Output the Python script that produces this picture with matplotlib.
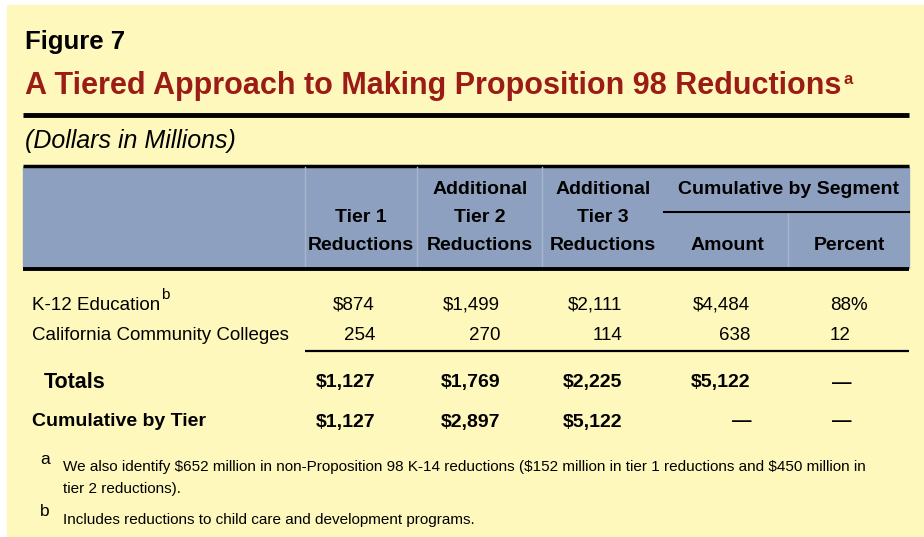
import matplotlib.pyplot as plt
from matplotlib.patches import Rectangle

# table data
segments = ["K-12 Education", "California Community Colleges"]
tier1 = [874, 254]
tier2 = [1499, 270]
tier3 = [2111, 114]
amount = [4484, 638]
percent = [88, 12]
totals = [1127, 1769, 2225, 5122]
cum_by_tier = [1127, 2897, 5122]

footnote_a = ("We also identify $652 million in non-Proposition 98 K-14 reductions ($152 million in tier 1 reductions and $450 million in\n"
              "tier 2 reductions).")
footnote_b = "Includes reductions to child care and development programs."

FONT = "Liberation Sans"
YELLOW = "#FFF8BD"
BLUE = "#8DA0BF"
RED = "#9B1C16"

fig = plt.figure(figsize=(9.24, 5.37), dpi=100)
ax = fig.add_axes([0, 0, 1, 1])
ax.set_xlim(0, 924)
ax.set_ylim(537, 0)
ax.axis("off")

ax.add_patch(Rectangle((7, 5), 917, 532, color=YELLOW, zorder=0))

ax.text(25, 42, "Figure 7", fontsize=18.5, fontweight="bold", family=FONT, va="center")
title = ax.text(25, 86, "A Tiered Approach to Making Proposition 98 Reductions", fontsize=22,
                fontweight="bold", color=RED, family=FONT, va="center")
fig.canvas.draw()
bb = title.get_window_extent().transformed(ax.transData.inverted())
ax.text(bb.x1 + 2, 80, "a", fontsize=12, fontweight="bold", color=RED, family=FONT, va="center")
ax.plot([23, 909], [115, 115], color="black", lw=3.5, solid_capstyle="butt")
ax.text(25, 141, "(Dollars in Millions)", fontsize=18, style="italic", family=FONT, va="center")
ax.plot([23, 909], [165.5, 165.5], color="black", lw=2.5, solid_capstyle="butt")

# header band
ax.add_patch(Rectangle((23, 167), 886, 101, color=BLUE, zorder=1))
ax.plot([23, 909], [269, 269], color="black", lw=2.8, solid_capstyle="butt", zorder=3)
sep = "#A8B6CC"
for x in [305, 417, 542]:
    ax.plot([x, x], [167, 268], color=sep, lw=1, zorder=2)
ax.plot([788, 788], [213, 268], color=sep, lw=1, zorder=2)
ax.plot([664, 909], [212, 212], color="black", lw=1.5, zorder=2)

hdr = dict(fontsize=14, fontweight="bold", family=FONT, ha="center", va="center", zorder=4)
header_cols = [(361, ["Tier 1", "Reductions"]),
               (480, ["Additional", "Tier 2", "Reductions"]),
               (603, ["Additional", "Tier 3", "Reductions"])]
for x, lines in header_cols:
    for k, line in enumerate(reversed(lines)):
        ax.text(x, 245 - 28 * k, line, **hdr)
ax.text(788, 189, "Cumulative by Segment", **hdr)
ax.text(727, 245, "Amount", **hdr)
ax.text(849, 245, "Percent", **hdr)

# body rows
right_edges = [375, 500, 622, 750]
row_y = [305, 336]
body = dict(fontsize=13.5, family=FONT, va="center")
for i, name in enumerate(segments):
    t = ax.text(32, row_y[i], name, **body)
    if i == 0:
        fig.canvas.draw()
        nb = t.get_window_extent().transformed(ax.transData.inverted())
        ax.text(nb.x1 + 1, 295, "b", fontsize=11, family=FONT, va="center")
    cols = [tier1[i], tier2[i], tier3[i], amount[i]]
    for j, v in enumerate(cols):
        s = f"${v:,}" if i == 0 else f"{v:,}"
        ax.text(right_edges[j], row_y[i], s, ha="right", **body)
    ax.text(830, row_y[i], f"{percent[i]}%" if i == 0 else f"{percent[i]}", ha="left", **body)

ax.plot([305, 909], [351, 351], color="black", lw=1.6, solid_capstyle="butt")

bold = dict(fontsize=14, fontweight="bold", family=FONT, va="center")
ax.text(44, 382, "Totals", fontsize=15.5, fontweight="bold", family=FONT, va="center")
for j, v in enumerate(totals):
    ax.text(right_edges[j], 383, f"${v:,}", ha="right", **bold)
ax.text(842, 383, "\u2014", ha="center", **bold)

ax.text(32, 421, "Cumulative by Tier", **bold)
for j, v in enumerate(cum_by_tier):
    ax.text(right_edges[j], 422, f"${v:,}", ha="right", **bold)
ax.text(742, 422, "\u2014", ha="center", **bold)
ax.text(842, 422, "\u2014", ha="center", **bold)

# footnotes
ax.text(40, 459, "a", fontsize=12.5, family=FONT, va="center")
ax.text(63, 478, footnote_a, fontsize=11, family=FONT, va="center", linespacing=1.65)
ax.text(40, 511, "b", fontsize=12.5, family=FONT, va="center")
ax.text(63, 520, footnote_b, fontsize=11, family=FONT, va="center")

fig.savefig("out.png", dpi=100)
